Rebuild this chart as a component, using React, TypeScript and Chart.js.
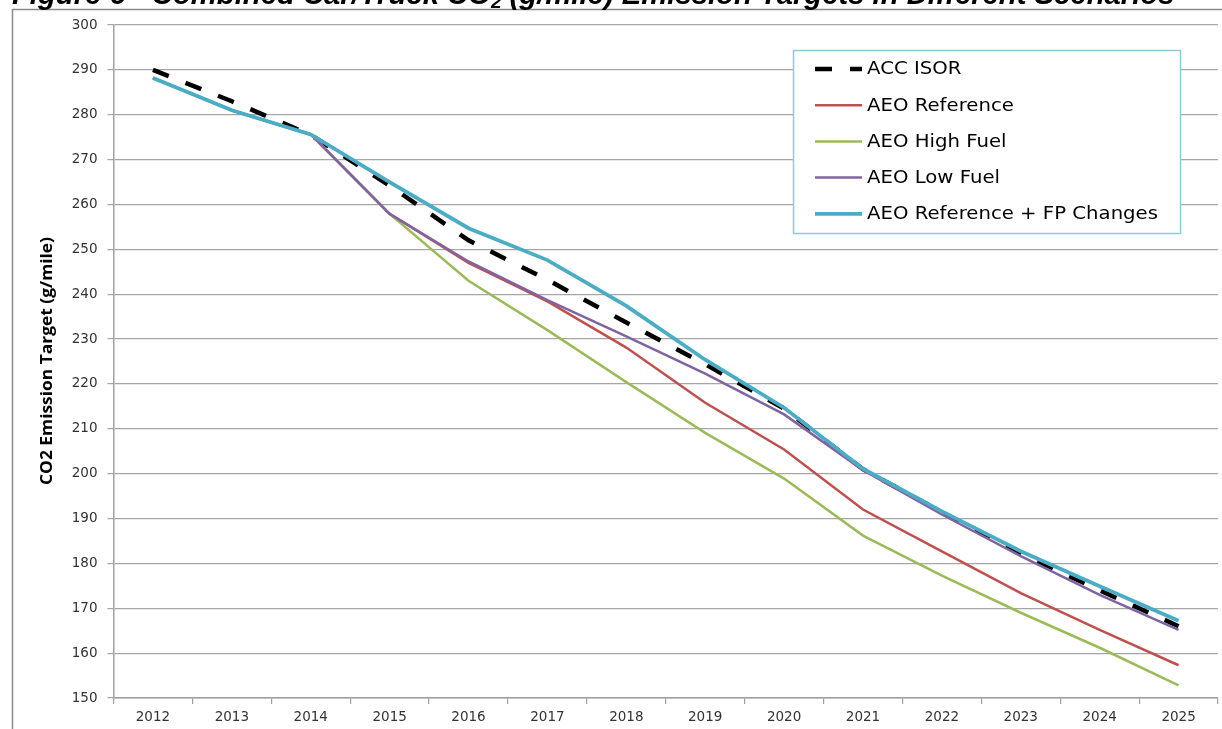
import React, { useEffect, useRef } from 'react';
import { Chart, registerables } from 'chart.js';

Chart.register(...registerables);

const years = ['2012', '2013', '2014', '2015', '2016', '2017', '2018', '2019', '2020', '2021', '2022', '2023', '2024', '2025'];
const accIsor = [290, 283, 275.5, 264.2, 252, 243.2, 233.7, 224.4, 214.5, 201, 191.4, 182.2, 174, 166];
const aeoReference = [288.2, 281, 275.6, 257.9, 247, 238.4, 228.1, 215.8, 205.4, 192, 182.7, 173.4, 165.2, 157.3];
const aeoHighFuel = [288.2, 281, 275.6, 257.9, 243, 232, 220.4, 209.1, 198.9, 186.2, 177.3, 169, 161.2, 152.8];
const aeoLowFuel = [288.2, 281, 275.6, 257.9, 247.3, 238.7, 230.6, 222.3, 213.2, 200.8, 190.9, 181.6, 173, 165.2];
const aeoRefFp = [288.2, 281, 275.6, 265, 254.7, 247.6, 237.4, 225.4, 214.7, 201.1, 191.6, 182.7, 174.9, 167.2];

const seriesLabels = ['ACC ISOR', 'AEO Reference', 'AEO High Fuel', 'AEO Low Fuel', 'AEO Reference + FP Changes'];
const seriesColors = ['#000000', '#C0504D', '#9BBB59', '#8064A2', '#4BACC6'];

const titleBefore = 'Figure 6 - Combined Car/Truck CO';
const titleSub = '2';
const titleAfter = ' (g/mile) Emission Targets in Different Scenarios';
const yAxisTitle = 'CO2 Emission Target (g/mile)';

const yMin = 150;
const yMax = 300;
const yStep = 10;

const decorPlugin = {
  id: 'decor',
  beforeDraw(chart: any) {
    const ctx = chart.ctx as CanvasRenderingContext2D;
    ctx.save();
    ctx.fillStyle = '#ffffff';
    ctx.fillRect(0, 0, chart.width, chart.height);

    // frame
    ctx.strokeStyle = '#8a8a8a';
    ctx.lineWidth = 1.5;
    ctx.beginPath();
    ctx.moveTo(12.5, chart.height);
    ctx.lineTo(12.5, 9.5);
    ctx.lineTo(chart.width, 9.5);
    ctx.stroke();

    // title (cut at the top like the reference)
    const base = 23;
    const fam = '"Liberation Sans", Arial, sans-serif';
    ctx.font = `italic bold ${base}px ${fam}`;
    const w1 = ctx.measureText(titleBefore).width;
    const w3 = ctx.measureText(titleAfter).width;
    ctx.font = `italic bold ${base * 0.65}px ${fam}`;
    const w2 = ctx.measureText(titleSub).width;
    const total = w1 + w2 + w3;
    const f = base * 1163 / total;
    ctx.fillStyle = '#000000';
    ctx.textBaseline = 'alphabetic';
    ctx.textAlign = 'left';
    let x = 12;
    const by = 4;
    ctx.font = `italic bold ${f}px ${fam}`;
    ctx.fillText(titleBefore, x, by);
    x += ctx.measureText(titleBefore).width;
    ctx.font = `italic bold ${f * 0.65}px ${fam}`;
    ctx.fillText(titleSub, x, by + f * 0.12);
    x += ctx.measureText(titleSub).width;
    ctx.font = `italic bold ${f}px ${fam}`;
    ctx.fillText(titleAfter, x, by);

    // y axis title
    ctx.save();
    ctx.translate(47.5, 361);
    ctx.rotate(-Math.PI / 2);
    ctx.font = 'bold 16px "Open Sans", sans-serif';
    const tw = ctx.measureText(yAxisTitle).width;
    ctx.scale(248 / tw, 1);
    ctx.textAlign = 'center';
    ctx.textBaseline = 'middle';
    ctx.fillStyle = '#000000';
    ctx.fillText(yAxisTitle, 0, 0);
    ctx.restore();

    ctx.restore();
  },
  afterDraw(chart: any) {
    const ctx = chart.ctx as CanvasRenderingContext2D;
    ctx.save();
    const lx = 793.5, ly = 50.5, lw = 387, lh = 183;
    ctx.fillStyle = '#ffffff';
    ctx.fillRect(lx, ly, lw, lh);
    ctx.strokeStyle = '#8ccbda';
    ctx.lineWidth = 1.5;
    ctx.strokeRect(lx, ly, lw, lh);

    ctx.font = '17px "DejaVu Sans", sans-serif';
    const longest = chart.data.datasets.reduce((m: number, d: any) => Math.max(m, ctx.measureText(d.label).width), 0);
    const sx = 291 / longest;
    chart.data.datasets.forEach((ds: any, i: number) => {
      const y = 69 + i * 36.2;
      ctx.strokeStyle = ds.borderColor;
      ctx.lineWidth = ds.borderWidth;
      ctx.setLineDash(ds.borderDash || []);
      ctx.lineCap = 'butt';
      ctx.beginPath();
      ctx.moveTo(815, y);
      ctx.lineTo(862, y);
      ctx.stroke();
      ctx.setLineDash([]);
      ctx.save();
      ctx.translate(867, y);
      ctx.scale(sx, 1);
      ctx.fillStyle = '#000000';
      ctx.textAlign = 'left';
      ctx.textBaseline = 'middle';
      ctx.fillText(ds.label, 0, 1);
      ctx.restore();
    });
    ctx.restore();
  },
};

export default function App() {
  const canvasRef = useRef<HTMLCanvasElement | null>(null);

  useEffect(() => {
    if (!canvasRef.current) return;
    const seriesData = [accIsor, aeoReference, aeoHighFuel, aeoLowFuel, aeoRefFp];
    const widths = [4.5, 2.5, 2.5, 2.5, 3.8];
    const chart = new Chart(canvasRef.current, {
      type: 'line',
      data: {
        labels: years,
        datasets: seriesData.map((d, i) => ({
          label: seriesLabels[i],
          data: d,
          borderColor: seriesColors[i],
          backgroundColor: seriesColors[i],
          borderWidth: widths[i],
          borderDash: i === 0 ? [17, 18] : [],
          pointRadius: 0,
          tension: 0,
          fill: false,
          order: 5 - i,
        })),
      },
      options: {
        animation: false,
        responsive: false,
        maintainAspectRatio: false,
        layout: { padding: { left: 0, top: 25, right: 4, bottom: 0 } },
        plugins: {
          legend: { display: false },
          title: { display: false },
          tooltip: { enabled: false },
        },
        scales: {
          x: {
            offset: true,
            grid: {
              display: true,
              drawOnChartArea: false,
              drawTicks: true,
              tickLength: 6,
              color: '#a0a0a0',
              lineWidth: 1.2,
              offset: true,
            },
            border: { display: true, color: '#a0a0a0', width: 1.5 },
            ticks: {
              font: { family: '"DejaVu Sans", sans-serif', size: 13.5 },
              color: '#333333',
              padding: 5,
              maxRotation: 0,
              autoSkip: false,
            },
            afterFit: (s: any) => {
              s.height = 31;
              s.paddingLeft = 0;
              s.paddingRight = 0;
            },
          },
          y: {
            min: yMin,
            max: yMax,
            ticks: {
              stepSize: yStep,
              font: { family: '"DejaVu Sans", sans-serif', size: 13.5 },
              color: '#333333',
              padding: 10,
            },
            grid: { color: '#a6a6a6', lineWidth: 1.2, tickLength: 6, drawTicks: true },
            border: { display: true, color: '#a0a0a0', width: 1.5 },
            afterFit: (s: any) => {
              s.width = 113.5;
            },
          },
        },
      },
      plugins: [decorPlugin],
    });
    return () => chart.destroy();
  }, []);

  return (
    <div style={{ position: 'absolute', left: 0, top: 0, width: 1222, height: 729, background: '#fff' }}>
      <canvas ref={canvasRef} width={1222} height={729} />
    </div>
  );
}
